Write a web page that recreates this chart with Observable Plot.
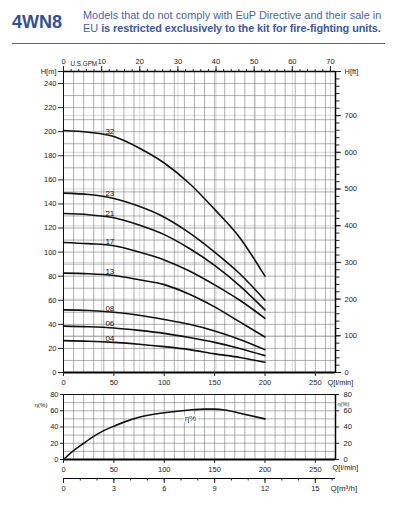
<!DOCTYPE html>
<html><head><meta charset="utf-8">
<script src="https://cdn.jsdelivr.net/npm/d3@7"></script>
<script src="https://cdn.jsdelivr.net/npm/@observablehq/plot@0.6"></script>
<style>
body{margin:0;background:#fff;font-family:"Liberation Sans",Arial,sans-serif;}
#wrap{position:relative;width:393px;height:509px;overflow:hidden;background:#fff;}
#title{position:absolute;left:12px;top:12px;font-size:18px;line-height:20px;font-weight:bold;color:#34509c;}
#sub{position:absolute;left:83px;top:9px;font-size:10.9px;line-height:12.6px;color:#4565b0;white-space:nowrap;}
#sub b{color:#3a57a3;letter-spacing:-0.08px;}
#rule{position:absolute;left:12px;top:43px;width:373px;height:1.3px;background:#4565b0;}
.p{position:absolute;left:0;}
</style></head><body>
<div id="wrap">
  <div id="title">4WN8</div>
  <div id="sub">Models that do not comply with EuP Directive and their sale in<br>EU <b>is restricted exclusively to the kit for fire-fighting units.</b></div>
  <div id="rule"></div>
  <div class="p" id="main" style="top:48px"></div>
  <div class="p" id="eff" style="top:386px"></div>
  <div class="p" id="m3h" style="top:470px"></div>
</div>
<script>
const GAL = 3.785411784;   // l per US gallon
const FT = 0.3048;         // m per ft

// flow points (l/min)
const Q = [0, 25, 50, 75, 100, 125, 150, 175, 200];
const models = ["32", "23", "21", "17", "13", "08", "06", "04"];
const H32 = [201, 199.5, 196, 186.5, 174, 157, 135.5, 112, 80];
const H23 = [149, 147.8, 144.5, 138, 129, 116, 100, 82, 60];
const H21 = [132, 131, 128.5, 122.5, 114.5, 103, 89, 72, 52];
const H17 = [108, 107, 105.3, 100, 93.5, 84.3, 72.8, 60, 45];
const H13 = [82.5, 82, 80.5, 77, 73, 65, 54.5, 42, 29.5];
const H08 = [52, 51.5, 50, 47.5, 44, 40, 34.5, 27.5, 19];
const H06 = [38.5, 38, 37, 35, 32.5, 29, 25, 20, 14];
const H04 = [26.5, 26, 25, 23.5, 21.5, 19, 15.5, 12.5, 8.5];
const series = [H32, H23, H21, H17, H13, H08, H06, H04];

// efficiency
const etaQ = [0, 10, 20, 30, 40, 50, 60, 75, 100, 125, 140, 150, 160, 175, 200];
const eta  = [0, 11, 20, 28.5, 35.5, 41, 46, 52, 57.5, 61, 62, 62, 61, 57, 50];

// tick values
const qTicks = [0, 50, 100, 150, 200, 250];
const hTicks = [0, 20, 40, 60, 80, 100, 120, 140, 160, 180, 200, 220, 240];
const ftTicks = [0, 100, 200, 300, 400, 500, 600, 700];
const ftMinor = d3.range(0, 821, 20);
const gpmTicks = [0, 10, 20, 30, 40, 50, 60, 70];
const gpmMinor = d3.range(0, 71, 2);
const etaTicks = [0, 20, 40, 60, 80];
const m3hTicks = [0, 3, 6, 9, 12, 15];
const m3hMinor = d3.range(0, 16.1, 1);
const qGrid = d3.range(0, 271, 10);
const hGrid = d3.range(0, 251, 10);
const etaGrid = d3.range(0, 81, 10);

const Q_MAX = 270, H_MAX = 250;
const labelQ = 46;

const rows = models.flatMap((m, i) => Q.map((q, j) => ({model: m, q, h: series[i][j]})));
const labels = models.map((m, i) => ({model: m, q: labelQ, h: d3.scaleLinear(Q, series[i])(labelQ)}));
const etaRows = etaQ.map((q, i) => ({q, e: eta[i]}));

const font = {fontFamily: "'Liberation Sans', Arial, sans-serif", fontSize: "7.5px", color: "#222", background: "transparent", overflow: "visible"};

const main = Plot.plot({
  width: 393, height: 344, marginTop: 23, marginBottom: 20, marginLeft: 63, marginRight: 58,
  style: font,
  x: {domain: [0, Q_MAX]}, y: {domain: [0, H_MAX]},
  marks: [
    Plot.ruleX(gpmTicks.slice(1), {x: d => d * GAL, stroke: "#cfcfcf", strokeWidth: 0.8}),
    Plot.ruleY(ftTicks.slice(1), {y: d => d * FT, stroke: "#cfcfcf", strokeWidth: 0.8}),
    Plot.ruleX(qGrid, {stroke: "#8c8c8c", strokeWidth: 0.7}),
    Plot.ruleY(hGrid, {stroke: "#8c8c8c", strokeWidth: 0.7}),
    Plot.frame({stroke: "#111", strokeWidth: 1}),
    Plot.ruleY([0], {stroke: "#000", strokeWidth: 2}),
    Plot.ruleY([H_MAX], {stroke: "#000", strokeWidth: 1.5}),
    Plot.ruleX([Q_MAX], {stroke: "#000", strokeWidth: 1.5}),
    Plot.line(rows, {x: "q", y: "h", z: "model", stroke: "#111", strokeWidth: 1.6, curve: "monotone-x"}),
    Plot.text(labels, {x: "q", y: "h", text: "model", lineAnchor: "bottom", dy: -1.5, fontSize: 8, fill: "#111"}),
    // left axis H[m]
    Plot.axisY([...hTicks, H_MAX], {anchor: "left", tickSize: 5, tickPadding: 2, label: null,
      tickFormat: d => d === H_MAX ? "H[m]" : d}),
    // right axis H[ft]
    Plot.axisY(ftMinor.map(f => f * FT), {anchor: "right", tickSize: 3.5, tickFormat: () => "", label: null}),
    Plot.axisY([...ftTicks.map(f => f * FT), H_MAX], {anchor: "right", tickSize: 5, tickPadding: 4, label: null,
      tickFormat: d => d === H_MAX ? "H[ft]" : Math.round(d / FT)}),
    // top axis US GPM
    Plot.axisX(gpmMinor.map(g => g * GAL), {anchor: "top", tickSize: 3, tickFormat: () => "", label: null}),
    Plot.axisX(gpmTicks.map(g => g * GAL), {anchor: "top", tickSize: 6, tickPadding: 2, label: null,
      tickFormat: d => Math.round(d / GAL)}),
    Plot.text(["U.S.GPM"], {text: d => d, frameAnchor: "top-left", dx: 7, dy: -10, textAnchor: "start", fontSize: 6.3}),
    // bottom axis Q
    Plot.axisX(qTicks, {anchor: "bottom", tickSize: 4, tickPadding: 3, label: null}),
    Plot.text(["Q[l/min]"], {text: d => d, frameAnchor: "bottom-right", dx: -8, dy: 12, textAnchor: "start"})
  ]
});
document.getElementById("main").appendChild(main);

const eff = Plot.plot({
  width: 393, height: 87, marginTop: 8, marginBottom: 14, marginLeft: 63, marginRight: 58,
  style: font,
  x: {domain: [0, Q_MAX]}, y: {domain: [0, 80]},
  marks: [
    Plot.ruleX(qGrid, {stroke: "#8c8c8c", strokeWidth: 0.7}),
    Plot.ruleY(etaGrid, {stroke: "#8c8c8c", strokeWidth: 0.7}),
    Plot.frame({stroke: "#111", strokeWidth: 1}),
    Plot.ruleY([0], {stroke: "#000", strokeWidth: 2}),
    Plot.ruleX([Q_MAX], {stroke: "#000", strokeWidth: 1.5}),
    Plot.line(etaRows, {x: "q", y: "e", stroke: "#111", strokeWidth: 1.6, curve: "monotone-x"}),
    Plot.text(["η%"], {text: d => d, x: 126, y: 50.5, fontSize: 8, fill: "#222", stroke: "#fff", strokeWidth: 3}),
    Plot.axisY(etaTicks, {anchor: "left", tickSize: 3, tickPadding: 2, label: null}),
    Plot.axisY(etaTicks, {anchor: "right", tickSize: 3, tickPadding: 5, label: null}),
    Plot.text(["η(%)"], {text: d => d, frameAnchor: "top-left", dx: -16, dy: 8, textAnchor: "end", fontSize: 6.2}),
    Plot.text(["η(%)"], {text: d => d, frameAnchor: "top-right", dx: 2, dy: 7.8, textAnchor: "start", fontSize: 5.6}),
    Plot.axisX(qTicks, {anchor: "bottom", tickSize: 4, tickPadding: 3, label: null}),
    Plot.text(["Q[l/min]"], {text: d => d, frameAnchor: "bottom-right", dx: -3, dy: 10, textAnchor: "start"})
  ]
});
document.getElementById("eff").appendChild(eff);

const m3 = Plot.plot({
  width: 393, height: 30, marginTop: 8, marginBottom: 22, marginLeft: 63, marginRight: 58,
  style: font,
  x: {domain: [0, Q_MAX * 60 / 1000]}, y: {domain: [0, 1], axis: null},
  marks: [
    Plot.ruleY([0], {stroke: "#000", strokeWidth: 1.2}),
    Plot.axisX(m3hMinor, {anchor: "bottom", tickSize: 2.5, tickFormat: () => "", label: null}),
    Plot.axisX(m3hTicks, {anchor: "bottom", tickSize: 5, tickPadding: 2, label: null}),
    Plot.text(["Q[m³/h]"], {text: d => d, frameAnchor: "bottom-right", dx: -5, dy: 12, textAnchor: "start", fontSize: 8})
  ]
});
document.getElementById("m3h").appendChild(m3);
</script>
</body></html>
